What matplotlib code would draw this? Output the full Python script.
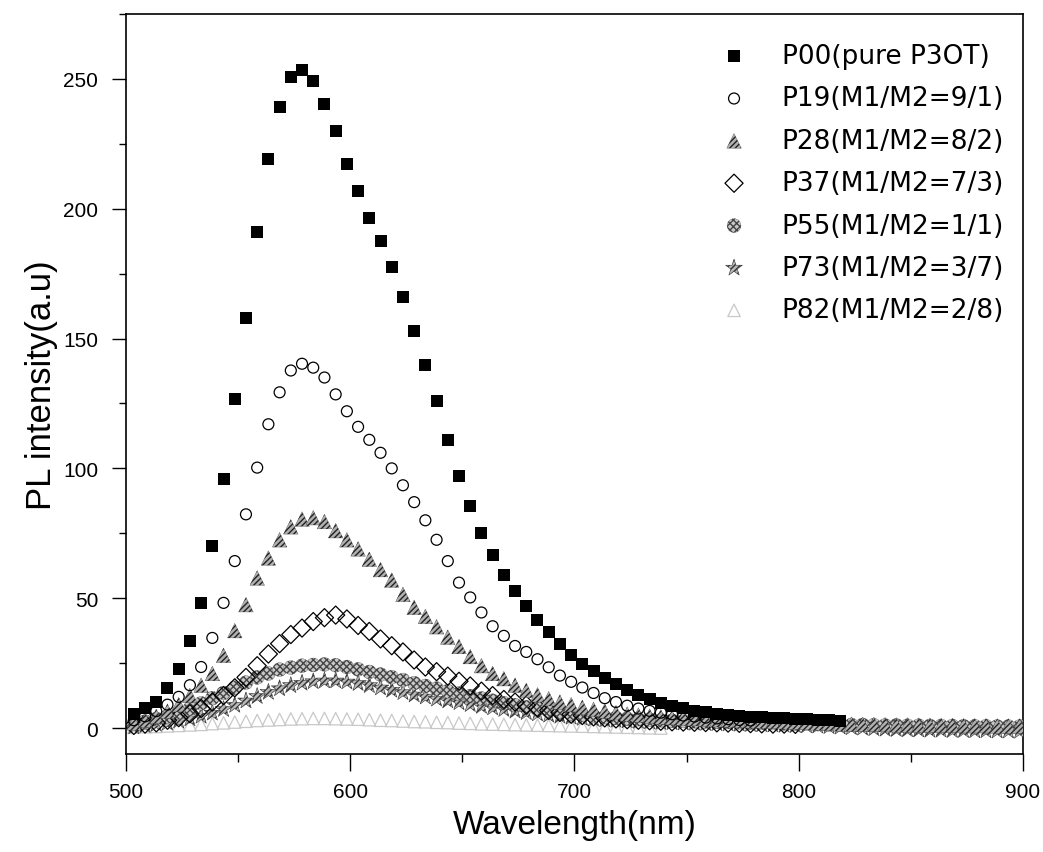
import numpy as np
import matplotlib
matplotlib.use("Agg")
import matplotlib.pyplot as plt
from matplotlib.ticker import MultipleLocator

plt.rcParams['font.family'] = ['Liberation Sans', 'DejaVu Sans']
plt.rcParams['hatch.linewidth'] = 1.0

# wavelength grid of the spectra (nm), 5 nm step
wl = np.arange(503.5, 900, 5)

p00 = [5.5, 7.7, 10.2, 15.4, 22.7, 33.4, 48.2, 70, 96, 126.7,
       158, 191, 219, 239, 250.6, 253.3, 249.3, 240.5, 229.8, 217.4,
       206.8, 196.3, 187.5, 177.5, 166, 153, 140, 126, 111, 97,
       85.5, 75.2, 66.8, 59.1, 52.8, 47.1, 41.7, 36.8, 32.5, 28.2,
       24.7, 21.8, 19.2, 17.0, 14.7, 12.8, 11.1, 9.8, 8.6, 7.6,
       6.7, 6.1, 5.4, 5.0, 4.6, 4.4, 4.2, 4.0, 3.8, 3.6,
       3.4, 3.2, 3.0, 2.8]
p19 = [3.0, 4.5, 6.5, 9.0, 12.0, 16.5, 23.5, 34.7, 48.2, 64.3,
       82.3, 100.3, 117, 129.3, 137.7, 140.3, 138.8, 135, 128.5, 122,
       116, 111, 106, 100, 93.5, 87, 80, 72.5, 64.3, 56,
       50.3, 44.5, 39.2, 35.5, 31.6, 29.3, 26.5, 23.4, 20.2, 17.8,
       15.6, 13.5, 11.5, 10.0, 8.6, 7.5, 6.6, 5.9, 5.3, 4.8,
       4.4, 4.0, 3.7, 3.4, 3.1, 2.9]
p28 = [2.0, 3.0, 4.5, 6.5, 9.0, 12.5, 16.5, 21.0, 28.0, 37.5,
       47.5, 57.8, 65.5, 72.5, 77.5, 80.5, 81.0, 79.5, 76.0, 72.5,
       69.0, 65.0, 61.0, 57.0, 51.5, 46.5, 43.0, 39.0, 35.0, 31.4,
       27.5, 24.0, 21.0, 19.0, 16.5, 14.5, 12.8, 11.3, 10.0, 9.0,
       8.0, 7.2, 6.5, 5.9, 5.4, 5.0, 4.6, 4.3, 4.0, 3.8,
       3.6, 3.4, 3.2, 3.1, 3.0, 2.8, 2.7, 2.5, 2.4, 2.2,
       2.1, 1.9, 1.8, 1.6, 1.5, 1.4, 1.4, 1.3, 1.2, 1.2,
       1.1, 1.1, 1.0, 1.0, 0.9, 0.9, 0.9, 0.8, 0.8, 0.8]
p37 = [1.0, 1.5, 2.0, 3.0, 4.0, 5.5, 7.5, 10.0, 12.5, 15.5,
       19.5, 24.0, 28.5, 32.5, 36.0, 38.5, 41.0, 42.5, 43.5, 42.0,
       39.5, 37.2, 34.3, 31.7, 29.3, 26.2, 23.5, 21.7, 20.0, 18.0,
       16.2, 14.2, 12.5, 11.0, 10.0, 8.8, 7.8, 6.8, 6.0, 5.3,
       4.8, 4.3, 3.9, 3.5, 3.2, 3.0, 2.8, 2.6, 2.4, 2.3,
       2.2, 2.1, 2.0, 1.9, 1.8, 1.7, 1.6, 1.5, 1.5, 1.4]
p55 = [1.5, 2.5, 3.5, 4.5, 6.0, 7.5, 9.5, 11.5, 13.5, 15.5,
       17.5, 19.5, 21.0, 22.5, 23.3, 24.0, 24.3, 24.5, 24.2, 23.5,
       22.6, 21.6, 20.6, 19.6, 18.5, 17.3, 16.2, 15.2, 14.2, 13.3,
       12.3, 11.4, 10.5, 9.6, 8.8, 8.0, 7.3, 6.6, 6.0, 5.5,
       5.0, 4.6, 4.2, 3.9, 3.6, 3.4, 3.2, 3.0, 2.8, 2.7,
       2.6, 2.5, 2.4, 2.3, 2.2, 2.1, 2.0, 1.9, 1.8, 1.7,
       1.6, 1.5, 1.4, 1.3, 1.2, 1.2, 1.1, 1.0, 1.0, 0.9,
       0.9, 0.8, 0.8, 0.8, 0.7, 0.7, 0.7, 0.6, 0.6, 0.6]
p73 = [0.5, 1.0, 1.5, 2.0, 2.8, 3.6, 4.6, 5.8, 7.2, 8.8,
       10.5, 12.2, 13.8, 15.2, 16.4, 17.3, 17.9, 18.2, 18.2, 17.8,
       17.2, 16.4, 15.5, 14.6, 13.7, 12.8, 12.0, 11.2, 10.5, 9.8,
       9.1, 8.4, 7.8, 7.2, 6.6, 6.0, 5.5, 5.0, 4.6, 4.2,
       3.8, 3.5, 3.2, 3.0, 2.8, 2.6, 2.4, 2.2, 2.1, 2.0,
       1.9, 1.8, 1.7, 1.6, 1.5, 1.4, 1.3, 1.2, 1.1, 1.0,
       0.9, 0.8, 0.6, 0.4, 0.2, 0.0, -0.2, -0.4, -0.5, -0.6,
       -0.7, -0.8, -0.8, -0.9, -0.9, -1.0, -1.0, -1.1, -1.1, -1.2]
p82 = [0.3, 0.5, 0.6, 0.8, 1.0, 1.2, 1.4, 1.7, 2.0, 2.3,
       2.6, 2.9, 3.1, 3.3, 3.5, 3.6, 3.7, 3.7, 3.6, 3.5,
       3.4, 3.2, 3.0, 2.9, 2.7, 2.5, 2.4, 2.2, 2.1, 1.9,
       1.8, 1.6, 1.5, 1.4, 1.3, 1.2, 1.1, 1.0, 0.9, 0.8,
       0.7, 0.6, 0.5, 0.4, 0.3, 0.2, 0.1, 0.0]

labels = ['P00(pure P3OT)', 'P19(M1/M2=9/1)', 'P28(M1/M2=8/2)',
          'P37(M1/M2=7/3)', 'P55(M1/M2=1/1)', 'P73(M1/M2=3/7)',
          'P82(M1/M2=2/8)']

fig = plt.figure(figsize=(10.43, 8.53), dpi=100)
ax = fig.add_axes([0.1208, 0.1149, 0.8600, 0.8675])

def scat(y, z, **kw):
    y = np.array(y)
    return ax.scatter(wl[:len(y)], y, zorder=z, **kw)

scat(p00, 10, marker='s', s=72, color='black', linewidths=0, label=labels[0])
scat(p19, 9, marker='o', s=62, facecolors='none', edgecolors='black',
     linewidths=0.9, label=labels[1])
scat(p28, 8, marker='^', s=110, facecolors='#b0b0b0', edgecolors='#222222',
     hatch='//////', linewidths=0.2, label=labels[2])
scat(p37, 7, marker='D', s=85, facecolors='none', edgecolors='black',
     linewidths=0.9, label=labels[3])
scat(p55, 6, marker='o', s=100, facecolors='#c8c8c8', edgecolors='#444444',
     hatch='xxxxx', linewidths=0.2, label=labels[4])
scat(p73, 5, marker='*', s=160, facecolors='#b8b8b8', edgecolors='#333333',
     hatch='//////', linewidths=0.4, label=labels[5])
scat(p82, 4, marker='^', s=80, facecolors='none', edgecolors='#c8c8c8',
     linewidths=0.9, label=labels[6])

ax.set_xlim(500, 900)
ax.set_ylim(-10, 275)
ax.xaxis.set_major_locator(MultipleLocator(100))
ax.xaxis.set_minor_locator(MultipleLocator(50))
ax.yaxis.set_major_locator(MultipleLocator(50))
ax.yaxis.set_minor_locator(MultipleLocator(25))
ax.tick_params(axis='both', which='both', direction='out', top=False, right=False)
ax.tick_params(axis='x', which='major', length=12, width=1, pad=8, labelsize=15)
ax.tick_params(axis='x', which='minor', length=6, width=1)
ax.tick_params(axis='y', which='major', length=10, width=1, pad=10, labelsize=15)
ax.tick_params(axis='y', which='minor', length=5, width=1)
for sp in ax.spines.values():
    sp.set_linewidth(1.2)

ax.set_xlabel('Wavelength(nm)', fontsize=24, labelpad=6)
ax.set_ylabel('PL intensity(a.u)', fontsize=25, labelpad=4)

ax.legend(loc='upper right', bbox_to_anchor=(0.9905, 0.975), frameon=False,
          prop={'family': 'DejaVu Sans', 'size': 19},
          handletextpad=0.8, labelspacing=0.62, borderaxespad=0,
          scatterpoints=1, markerscale=1.0)

fig.savefig('out.png', dpi=100)
